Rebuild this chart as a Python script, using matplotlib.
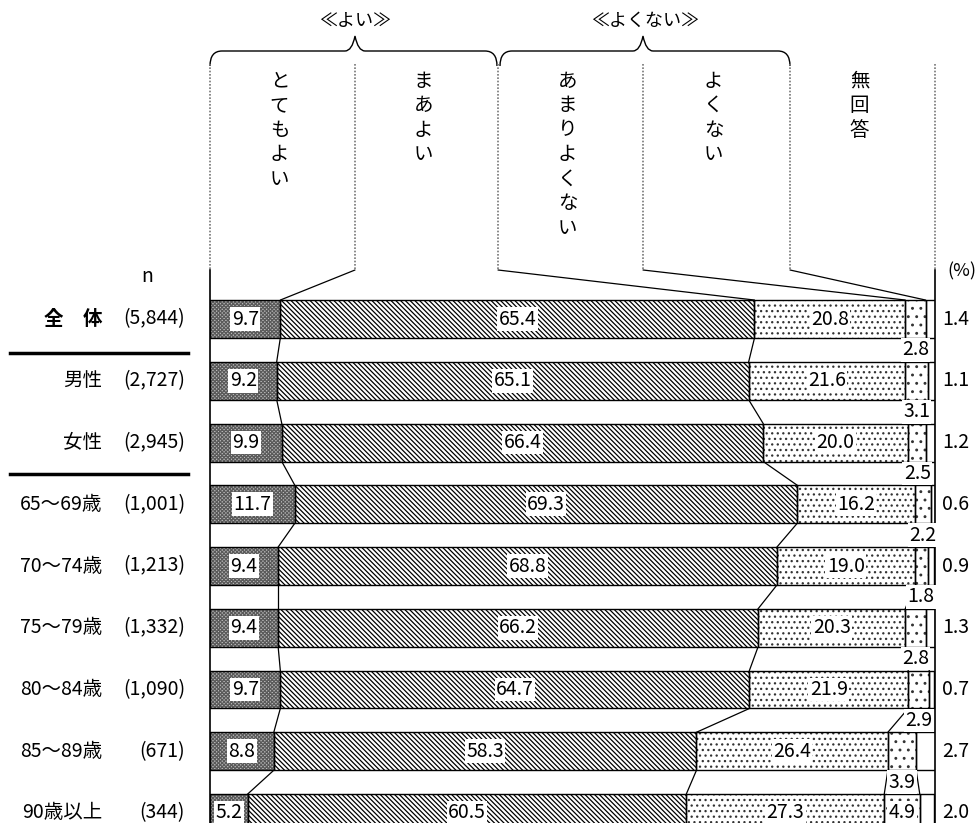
import matplotlib
matplotlib.use('Agg')
import matplotlib.pyplot as plt
from matplotlib.patches import ConnectionPatch, PathPatch
from matplotlib.path import Path
from matplotlib.transforms import blended_transform_factory

plt.rcParams['font.family'] = ['Noto Sans CJK JP', 'DejaVu Sans']
plt.rcParams['hatch.linewidth'] = 0.9

# --- data ---
groups = ['全　体', '男性', '女性', '65～69歳', '70～74歳', '75～79歳',
          '80～84歳', '85～89歳', '90歳以上']
counts = ['(5,844)', '(2,727)', '(2,945)', '(1,001)', '(1,213)',
          '(1,332)', '(1,090)', '(671)', '(344)']
answers = ['とてもよい', 'まあよい', 'あまりよくない', 'よくない', '無回答']
very_good = [9.7, 9.2, 9.9, 11.7, 9.4, 9.4, 9.7, 8.8, 5.2]
fairly_good = [65.4, 65.1, 66.4, 69.3, 68.8, 66.2, 64.7, 58.3, 60.5]
not_very_good = [20.8, 21.6, 20.0, 16.2, 19.0, 20.3, 21.9, 26.4, 27.3]
not_good = [2.8, 3.1, 2.5, 2.2, 1.8, 2.8, 2.9, 3.9, 4.9]
no_answer = [1.4, 1.1, 1.2, 0.6, 0.9, 1.3, 0.7, 2.7, 2.0]
series = [very_good, fairly_good, not_very_good, not_good, no_answer]

styles = [
    dict(color='#bdbdbd', hatch='xxxxxxxxx', ec='#5a5a5a'),
    dict(color='white', hatch='\\' * 7, ec='black'),
    dict(color='white', hatch='...', ec='#333333'),
    dict(color='white', hatch='..', ec='#333333'),
    dict(color='white', hatch='', ec='black'),
]

W, H = 978, 823
fig = plt.figure(figsize=(W / 100, H / 100), dpi=100)
ax = fig.add_axes([210 / W, 0, 725 / W, (H - 270) / H])
ov = fig.add_axes([0, 0, 1, 1], zorder=5)
ov.set_xlim(0, W)
ov.set_ylim(H, 0)
ov.axis('off')

n = len(groups)
rows = list(range(n))
h = 0.615
ax.set_xlim(0, 100)
ax.set_ylim(8.162, -0.794)
for s in ['top', 'bottom']:
    ax.spines[s].set_visible(False)
for s in ['left', 'right']:
    ax.spines[s].set_linewidth(1.2)
ax.set_xticks([])
ax.set_yticks([])

lefts = [[0.0] * n]
for vals in series:
    lefts.append([l + v for l, v in zip(lefts[-1], vals)])

fs = 14
box = dict(facecolor='white', edgecolor='none', pad=1.0)
for k, vals in enumerate(series):
    st = styles[k]
    ax.barh(rows, vals, left=lefts[k], height=h, color=st['color'],
            hatch=st['hatch'], edgecolor=st['ec'], linewidth=0, zorder=2)
    ax.barh(rows, vals, left=lefts[k], height=h, fill=False,
            edgecolor='black', linewidth=1.0, zorder=3)
    for i, v in enumerate(vals):
        c = lefts[k][i] + v / 2
        if k < 3 or (k == 3 and v >= 4.5):
            ax.text(c, i, f'{v:.1f}', ha='center', va='center', fontsize=fs,
                    bbox=box, zorder=6)
        elif k == 3:
            ax.text(c, i + 0.5, f'{v:.1f}', ha='center', va='center',
                    fontsize=fs, bbox=box, zorder=6)
        else:
            ax.text(101, i, f'{v:.1f}', ha='left', va='center', fontsize=fs,
                    zorder=6)

# connecting lines between rows
for k in range(1, 5):
    for i in range(n - 1):
        ax.plot([lefts[k][i], lefts[k][i + 1]], [i + h / 2, i + 1 - h / 2],
                color='black', lw=0.9, zorder=1)

# left labels
tr = blended_transform_factory(ov.transData, ax.transData)
for i in rows:
    ov.text(102, i, groups[i], transform=tr, ha='right', va='center',
            fontsize=14, fontweight='bold' if i == 0 else 'normal')
    ov.text(185, i, counts[i], transform=tr, ha='right', va='center',
            fontsize=14)
ov.plot([10, 188], [353, 353], color='black', lw=2.5)
ov.plot([10, 188], [474, 474], color='black', lw=2.5)
ov.text(147, 276, 'n', ha='center', va='center', fontsize=14)
ov.text(962, 271, '(%)', ha='center', va='center', fontsize=13)

# header columns
col_x = [210, 355, 498, 643, 790, 935]
for x in col_x:
    ov.plot([x, x], [64, 270], color='#777777', lw=1.2, ls=(0, (1, 1)))
for k in range(1, 5):
    con = ConnectionPatch(xyA=(col_x[k], 270), coordsA=ov.transData,
                          xyB=(lefts[k][0], -h / 2), coordsB=ax.transData,
                          color='black', lw=0.9)
    fig.add_artist(con)
for k, name in enumerate(answers):
    cx = (col_x[k] + col_x[k + 1]) / 2 - 3
    for j, ch in enumerate(name):
        ov.text(cx, 81 + j * 24.5, ch, ha='center', va='center', fontsize=14)


def brace(x0, xm, x1, y=51, top=36, bot=66):
    verts = [(x0, bot), (x0, y), (x0 + 12, y), (xm - 10, y), (xm - 3, y),
             (xm, top), (xm + 3, y), (xm + 10, y), (x1 - 12, y), (x1, y),
             (x1, bot)]
    codes = [Path.MOVETO, Path.CURVE3, Path.CURVE3, Path.LINETO, Path.CURVE3,
             Path.CURVE3, Path.CURVE3, Path.CURVE3, Path.LINETO, Path.CURVE3,
             Path.CURVE3]
    ov.add_patch(PathPatch(Path(verts, codes), fill=False, lw=1.0,
                           ec='black'))


brace(210, 355, 497)
brace(500, 643, 790)
ov.text(355, 21, '≪よい≫', ha='center', va='center', fontsize=13)
ov.text(645, 21, '≪よくない≫', ha='center', va='center', fontsize=13)

fig.savefig('out.png', dpi=100)
